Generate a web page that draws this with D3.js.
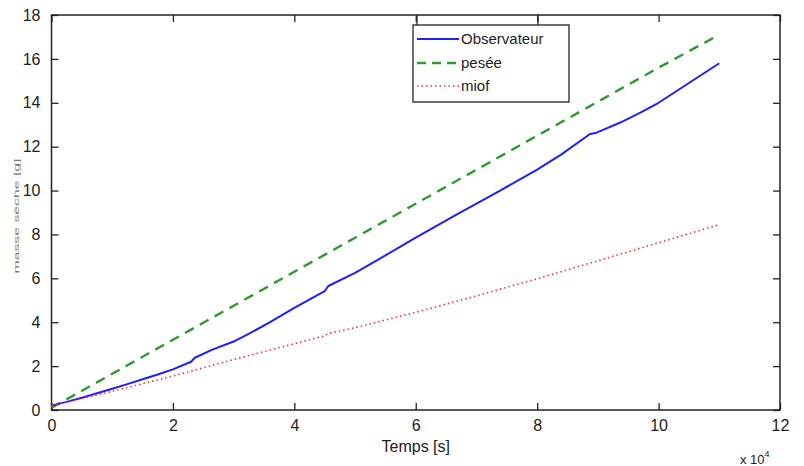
<!DOCTYPE html>
<html><head><meta charset="utf-8">
<script src="https://cdn.jsdelivr.net/npm/d3@7"></script>
<style>body{margin:0;background:#fff}svg{display:block}text{font-family:"Liberation Sans",Arial,sans-serif}</style>
</head><body><svg id="c" width="804" height="466"></svg>
<script>
// ---- data ----
const seriesNames = ["Observateur", "pesée", "miof"];
const obsT = [0, 2500, 5000, 7500, 10000, 12500, 15000, 17500, 20000, 23000, 23600, 26500, 30000, 32700, 36000, 40000, 45000, 45600, 50000, 54100, 60000, 67000, 73900, 80000, 84000, 88700, 89600, 93700, 97000, 100000, 105000, 110000];
const obsV = [0.2, 0.37, 0.56, 0.76, 0.97, 1.18, 1.4, 1.62, 1.85, 2.2, 2.38, 2.75, 3.12, 3.5, 4.0, 4.65, 5.42, 5.65, 6.25, 6.9, 7.85, 8.95, 10.0, 10.95, 11.65, 12.58, 12.62, 13.1, 13.55, 14.0, 14.9, 15.8];
const peseeT = [0, 10000, 20000, 30000, 40000, 50000, 60000, 70000, 80000, 90000, 100000, 110000];
const peseeV = [0.1, 1.65, 3.2, 4.75, 6.3, 7.85, 9.4, 10.95, 12.5, 14.05, 15.6, 17.1];
const miofT = [0, 5000, 10000, 15000, 20000, 30000, 40000, 45000, 45500, 50000, 60000, 70000, 80000, 90000, 100000, 110000];
const miofV = [0.2, 0.52, 0.85, 1.2, 1.55, 2.3, 3.02, 3.38, 3.48, 3.75, 4.45, 5.2, 5.98, 6.8, 7.62, 8.45];
const xTicks = [0, 20000, 40000, 60000, 80000, 100000, 120000];
const yTicks = [0, 2, 4, 6, 8, 10, 12, 14, 16, 18];
const xLabel = "Temps [s]";
const yLabel = "masse sèche [g]";

const svg = d3.select("#c");
const L = 51.5, R = 780, T = 15, B = 410;
const x = d3.scaleLinear().domain([0, 120000]).range([L, R]);
const y = d3.scaleLinear().domain([0, 18]).range([B, T]);
const fs = 16;

// axes
const fmtX = d => d3.format("d")(d / 10000);
const axB = svg.append("g").attr("transform", `translate(0,${B})`)
  .call(d3.axisBottom(x).tickValues(xTicks).tickFormat(fmtX).tickSizeInner(-7).tickSizeOuter(0).tickPadding(13));
const axT = svg.append("g").attr("transform", `translate(0,${T})`)
  .call(d3.axisTop(x).tickValues(xTicks).tickFormat("").tickSizeInner(-7).tickSizeOuter(0));
const axL = svg.append("g").attr("transform", `translate(${L},0)`)
  .call(d3.axisLeft(y).tickValues(yTicks).tickSizeInner(-7).tickSizeOuter(0).tickPadding(11));
const axR = svg.append("g").attr("transform", `translate(${R},0)`)
  .call(d3.axisRight(y).tickValues(yTicks).tickFormat("").tickSizeInner(-7).tickSizeOuter(0));
[axB, axT, axL, axR].forEach(g => {
  g.select(".domain").remove();
  g.selectAll("line").attr("stroke", "#222").attr("stroke-width", 1.3);
  g.selectAll("text").attr("font-size", fs).attr("fill", "#222").attr("font-family", "Liberation Sans, Arial, sans-serif");
});
axB.selectAll("text").attr("dy", "0.5em");
svg.append("rect").attr("x", L).attr("y", T).attr("width", R - L).attr("height", B - T)
  .attr("fill", "none").attr("stroke", "#222").attr("stroke-width", 1.5);

// lines
const line = d3.line().x(d => x(d[0])).y(d => y(d[1]));
const zip = (a, b) => a.map((t, i) => [t, b[i]]);
svg.append("path").datum(zip(peseeT, peseeV)).attr("d", line).attr("fill", "none")
  .attr("stroke", "#2f9a2f").attr("stroke-width", 2.4).attr("stroke-dasharray", "10,7");
svg.append("path").datum(zip(obsT, obsV)).attr("d", line).attr("fill", "none")
  .attr("stroke", "#1f1fff").attr("stroke-width", 2).attr("stroke-linejoin", "round");
svg.append("path").datum(zip(miofT, miofV)).attr("d", line).attr("fill", "none")
  .attr("stroke", "#ff3030").attr("stroke-width", 1.6).attr("stroke-dasharray", "1.5,3");

// labels
svg.append("text").attr("x", x(60000)).attr("y", 452).attr("text-anchor", "middle")
  .attr("font-size", fs).attr("fill", "#222").text(xLabel);
const xe = svg.append("text").attr("x", 740).attr("y", 464).attr("font-size", 13).attr("fill", "#222");
xe.append("tspan").text("x 10");
xe.append("tspan").attr("dy", -7).attr("font-size", 9).text("4");
svg.append("text").attr("transform", "translate(19,216) rotate(-90)").attr("text-anchor", "middle")
  .attr("font-size", 7).attr("fill", "#777").attr("textLength", 115).attr("lengthAdjust", "spacingAndGlyphs")
  .text(yLabel);

// legend
const lg = svg.append("g");
lg.append("line").attr("x1", 417).attr("x2", 417).attr("y1", T).attr("y2", 25).attr("stroke", "#222").attr("stroke-width", 1.3);
lg.append("line").attr("x1", 538).attr("x2", 538).attr("y1", T).attr("y2", 25).attr("stroke", "#222").attr("stroke-width", 1.3);
lg.append("rect").attr("x", 413).attr("y", 25).attr("width", 156).attr("height", 77)
  .attr("fill", "#fff").attr("stroke", "#222").attr("stroke-width", 1.3);
const styles = [
  {c: "#1f1fff", w: 2, d: null},
  {c: "#2f9a2f", w: 2.4, d: "9,6"},
  {c: "#ff3030", w: 1.6, d: "1.5,3"}
];
const rows = [39, 63, 86];
seriesNames.forEach((n, i) => {
  lg.append("line").attr("x1", 417).attr("x2", 459).attr("y1", rows[i]).attr("y2", rows[i])
    .attr("stroke", styles[i].c).attr("stroke-width", styles[i].w).attr("stroke-dasharray", styles[i].d);
  lg.append("text").attr("x", 461).attr("y", rows[i]).attr("dy", "0.36em").attr("font-size", 15)
    .attr("fill", "#222").text(n);
});
</script></body></html>
